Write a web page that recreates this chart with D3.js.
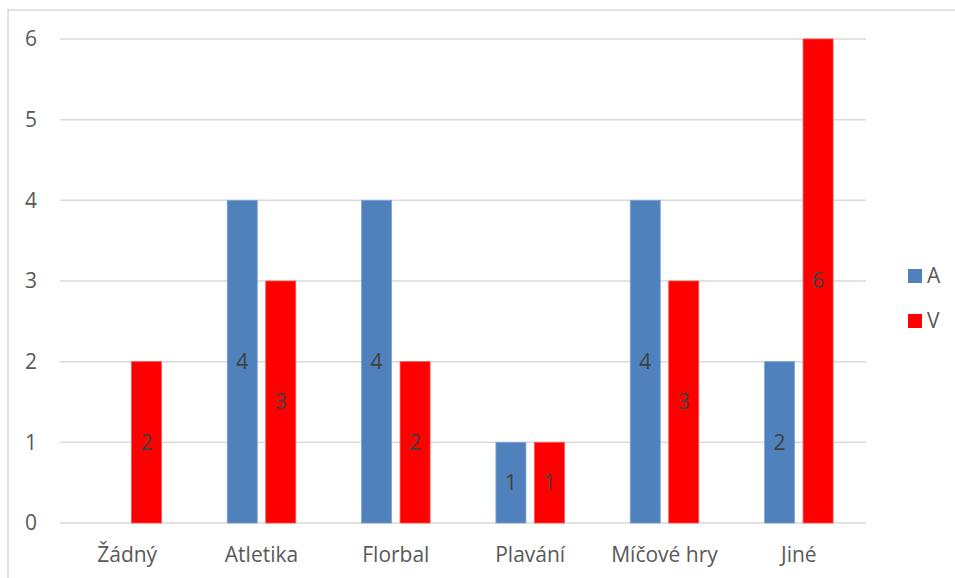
<!DOCTYPE html>
<html><head><meta charset="utf-8">
<script src="https://cdn.jsdelivr.net/npm/d3@7"></script>
<style>body{margin:0;background:#fff;} svg{display:block;}</style>
</head><body>
<svg id="c" width="955" height="578"></svg>
<script>
const categories = ["Žádný","Atletika","Florbal","Plavání","Míčové hry","Jiné"];
const seriesNames = ["A","V"];
const valuesA = [0,4,4,1,4,2];
const valuesV = [2,3,2,1,3,6];
const yTicks = [0,1,2,3,4,5,6];
const colors = {A:"#4f81bd", V:"#ff0000"};

(function(){
const svg = d3.select("#c");
const font = "'Open Sans', 'Liberation Sans', sans-serif";
const fs = 21;
const pLeft = 60, pRight = 866, pTop = 39, pBottom = 523;

svg.append("rect").attr("x",8).attr("y",10).attr("width",1000).attr("height",600)
  .attr("fill","#fff").attr("stroke","#d9d9d9").attr("stroke-width",1.5);

const x = d3.scaleBand().domain(categories).range([pLeft,pRight]).paddingInner(0).paddingOuter(0);
const y = d3.scaleLinear().domain([0,6]).range([pBottom,pTop]);
const xs = d3.scaleBand().domain(seriesNames).range([x.bandwidth()/2-34.25, x.bandwidth()/2+34.25]).paddingInner(0.22);

svg.append("g").selectAll("line").data(yTicks).join("line")
  .attr("x1",pLeft).attr("x2",pRight).attr("y1",d=>y(d)).attr("y2",d=>y(d))
  .attr("stroke","#d9d9d9").attr("stroke-width",1.5);

const yAxis = d3.axisLeft(y).tickValues(yTicks).tickFormat(d3.format("d")).tickSize(0).tickPadding(0);
const ga = svg.append("g").attr("transform","translate(37,0)").call(yAxis);
ga.select(".domain").remove();
ga.selectAll("text").attr("font-family",font).attr("font-size",fs).attr("fill","#595959");

const xAxis = d3.axisBottom(x).tickSize(0).tickPadding(24);
const gx = svg.append("g").attr("transform",`translate(0,${pBottom})`).call(xAxis);
gx.select(".domain").remove();
gx.selectAll("text").attr("font-family",font).attr("font-size",fs).attr("fill","#595959");

const data = [];
categories.forEach((c,i)=>{
  data.push({cat:c, s:"A", v:valuesA[i]});
  data.push({cat:c, s:"V", v:valuesV[i]});
});
const bars = data.filter(d=>d.v>0);
const g = svg.append("g");
g.selectAll("rect").data(bars).join("rect")
  .attr("x",d=>x(d.cat)+xs(d.s)).attr("width",xs.bandwidth())
  .attr("y",d=>y(d.v)).attr("height",d=>y(0)-y(d.v))
  .attr("fill",d=>colors[d.s])
  .attr("stroke",d=>d.s==="A"?"#7fa3d3":"#ff5050").attr("stroke-width",0.8);
g.selectAll("text").data(bars).join("text")
  .attr("x",d=>x(d.cat)+xs(d.s)+xs.bandwidth()/2)
  .attr("y",d=>(y(d.v)+y(0))/2)
  .attr("dy","0.35em").attr("text-anchor","middle")
  .attr("font-family",font).attr("font-size",fs).attr("fill","#404040")
  .text(d=>d.v);

const lg = svg.append("g").selectAll("g").data(seriesNames).join("g")
  .attr("transform",(d,i)=>`translate(908,${269+i*45})`);
lg.append("rect").attr("width",14).attr("height",14).attr("fill",d=>colors[d]);
lg.append("text").attr("x",19).attr("y",7).attr("dy","0.35em")
  .attr("font-family",font).attr("font-size",fs).attr("fill","#595959").text(d=>d);
})();
</script>
</body></html>
